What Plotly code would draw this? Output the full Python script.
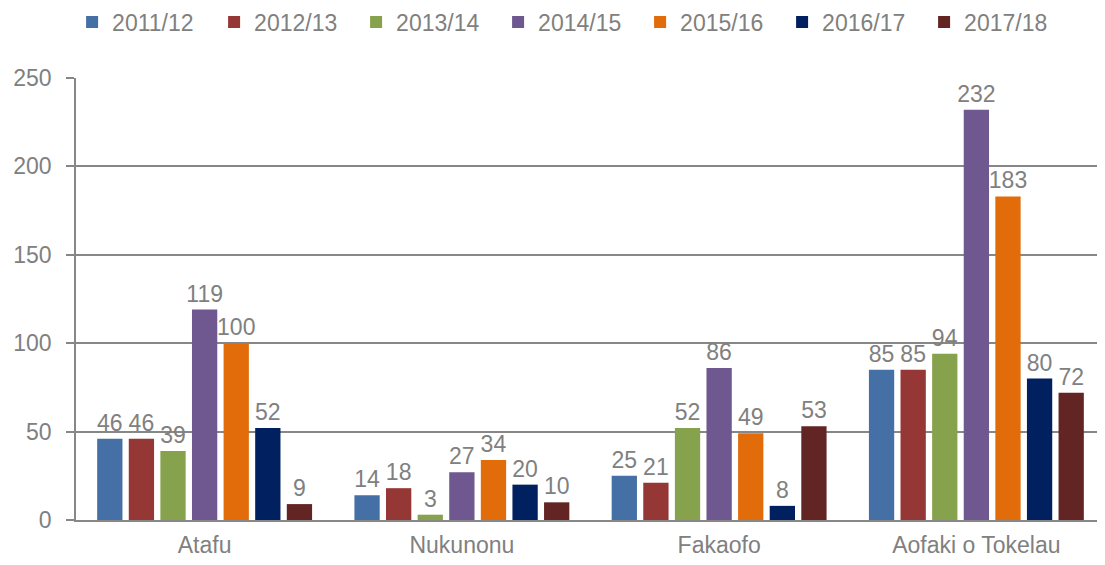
import plotly.graph_objects as go

categories = ["Atafu", "Nukunonu", "Fakaofo", "Aofaki o Tokelau"]
series_names = ["2011/12", "2012/13", "2013/14", "2014/15", "2015/16", "2016/17", "2017/18"]
v_2011 = [46, 14, 25, 85]
v_2012 = [46, 18, 21, 85]
v_2013 = [39, 3, 52, 94]
v_2014 = [119, 27, 86, 232]
v_2015 = [100, 34, 49, 183]
v_2016 = [52, 20, 8, 80]
v_2017 = [9, 10, 53, 72]
values = [v_2011, v_2012, v_2013, v_2014, v_2015, v_2016, v_2017]
colors = ["#4470A5", "#953735", "#87A24D", "#6F578F", "#E26B0A", "#002060", "#632523"]

FONT = "Liberation Sans"
GRAY = "#808080"
FS = 23

fig = go.Figure()
for name, vals, col in zip(series_names, values, colors):
    fig.add_trace(go.Bar(
        name=name, x=categories, y=vals, marker=dict(color=col, line=dict(width=0)),
        text=[str(v) for v in vals], textposition="outside", cliponaxis=False,
        textfont=dict(family=FONT, size=FS, color=GRAY),
    ))

fig.update_layout(
    width=1105, height=565,
    margin=dict(l=68, r=8, t=70, b=53, autoexpand=False),
    paper_bgcolor="white", plot_bgcolor="white",
    barmode="group", bargap=0.14, bargroupgap=0.2,
    uniformtext=dict(minsize=FS, mode="show"),
    font=dict(family=FONT, size=FS, color=GRAY),
    legend=dict(orientation="h", xref="container", yref="container",
                x=0.058, y=0.975, xanchor="left", yanchor="middle",
                entrywidth=97, entrywidthmode="pixels",
                font=dict(family=FONT, size=FS, color=GRAY),
                itemclick=False),
    xaxis=dict(showline=True, linecolor="#878787", linewidth=1.5, automargin=False,
               tickfont=dict(family=FONT, size=FS, color=GRAY), ticks="",
               ticklabelstandoff=4),
    yaxis=dict(range=[0, 250], dtick=50, showgrid=True, gridcolor="#878787", gridwidth=1.5,
               showline=True, linecolor="#878787", linewidth=1.5, automargin=False,
               ticks="outside", ticklen=8, tickcolor="#878787", tickwidth=1.5,
               zeroline=False, ticklabelstandoff=10,
               tickfont=dict(family=FONT, size=FS, color=GRAY)),
)

fig.write_html("out.html")
